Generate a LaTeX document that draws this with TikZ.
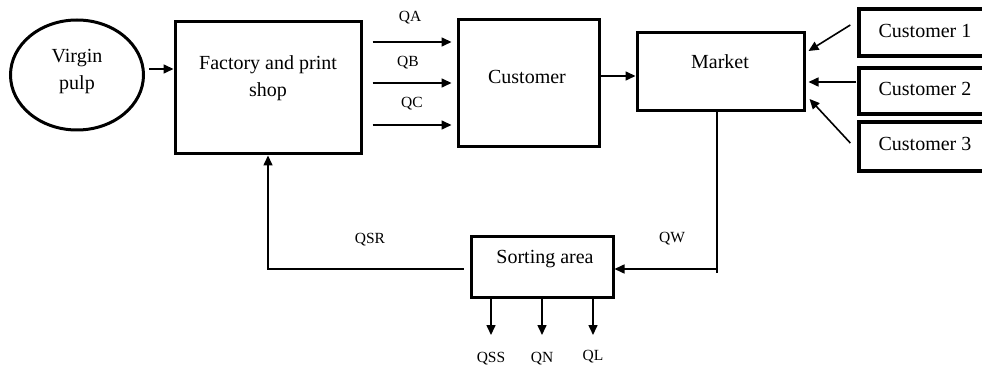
\documentclass[tikz,border=0pt]{standalone}
\usepackage{fontspec}
\setmainfont{Liberation Serif}
\usetikzlibrary{arrows.meta,shapes.geometric}

\tikzset{
  box/.style={draw, line width=3pt, rectangle, inner sep=0pt},
  custbox/.style={box, line width=3.4pt},
  txt/.style={font=\fontsize{20}{27}\selectfont, align=center, inner sep=0pt},
  lbl/.style={font=\fontsize{15.5}{18}\selectfont, inner sep=0pt},
  flow/.style={line width=1.6pt, -{Triangle[length=10pt,width=9pt]}},
  plain/.style={line width=1.6pt}
}

\begin{document}
\begin{tikzpicture}[x=1pt,y=-1pt]
  \clip (0,0) rectangle (982,371);

  % process blocks
  \node[draw, ellipse, line width=3pt, minimum width=133pt, minimum height=110pt] (vp) at (77,75) {};
  \node[box, minimum width=186pt, minimum height=132pt] (fac)  at (268,88) {};
  \node[box, minimum width=141pt, minimum height=127pt] (cust) at (528.5,83.5) {};
  \node[box, minimum width=167pt, minimum height=78pt]  (mkt)  at (720.5,72) {};
  \node[box, minimum width=142pt, minimum height=60pt]  (sort) at (542,267) {};
  \node[custbox, minimum width=134pt, minimum height=47pt] (c1) at (926,32.5) {};
  \node[custbox, minimum width=134pt, minimum height=46pt] (c2) at (926,91) {};
  \node[custbox, minimum width=134pt, minimum height=49pt] (c3) at (926,146.5) {};

  % block texts
  \node[txt] (vpt)   at (77,72)    {Virgin\\pulp};
  \node[txt] (fact)  at (268,78.5) {Factory and print\\shop};
  \node[txt] (custt) at (527,77)   {Customer};
  \node[txt] (mktt)  at (720,62)   {Market};
  \node[txt] (sortt) at (545,259)  {Sorting area};
  \node[txt] (c1t)   at (925,31)   {Customer 1};
  \node[txt] (c2t)   at (925,89)   {Customer 2};
  \node[txt] (c3t)   at (925,144)  {Customer 3};

  % flow labels
  \node[lbl] (qa)  at (410,18)  {QA};
  \node[lbl] (qb)  at (408,63)  {QB};
  \node[lbl] (qc)  at (412,104) {QC};
  \node[lbl] (qsr) at (370,240) {QSR};
  \node[lbl] (qw)  at (672,239) {QW};
  \node[lbl] (qss) at (491,359) {QSS};
  \node[lbl] (qn)  at (542,359) {QN};
  \node[lbl] (ql)  at (593,357) {QL};

  % pulp into the factory
  \draw[flow] ([xshift=4pt,yshift=6pt]vp.east) -- ([yshift=19pt]fac.west);

  % product streams
  \draw[flow] ([xshift=10pt,yshift=46pt]fac.east)  -- ([xshift=-5pt,yshift=46pt]fac.east -| cust.west);
  \draw[flow] ([xshift=10pt,yshift=5pt]fac.east)   -- ([xshift=-5pt,yshift=5pt]fac.east -| cust.west);
  \draw[flow] ([xshift=10pt,yshift=-37pt]fac.east) -- ([xshift=-5pt,yshift=-37pt]fac.east -| cust.west);

  % customer to market
  \draw[flow] ([yshift=7.5pt]cust.east) -- ([yshift=-4pt]mkt.west);

  % customers into the market
  \draw[flow] ([xshift=-7pt,yshift=7.5pt]c1.west) -- ([xshift=3pt,yshift=21pt]mkt.east);
  \draw[flow] ([xshift=-1pt,yshift=9pt]c2.west)   -- ([xshift=3pt,yshift=-10pt]mkt.east);
  \draw[flow] ([xshift=-7pt,yshift=3.5pt]c3.west) -- ([xshift=4pt,yshift=-27pt]mkt.east);

  % waste stream to the sorting area
  \coordinate (wc) at (717,269);
  \draw[plain] ([xshift=-3.5pt]mkt.south) -- ([yshift=-4pt]wc);
  \draw[flow] (wc) -- ([yshift=-2pt]sort.east);

  % sorted return to the factory
  \draw[flow] ([xshift=-6pt,yshift=-2pt]sort.west) -| (fac.south);

  % sorting outputs
  \coordinate (ess) at (491,335);
  \coordinate (en)  at (542,335);
  \coordinate (el)  at (593,335);
  \draw[flow] ([xshift=-51pt]sort.south) -- (ess);
  \draw[flow] (sort.south) -- (en);
  \draw[flow] ([xshift=51pt]sort.south) -- (el);
\end{tikzpicture}
\end{document}
